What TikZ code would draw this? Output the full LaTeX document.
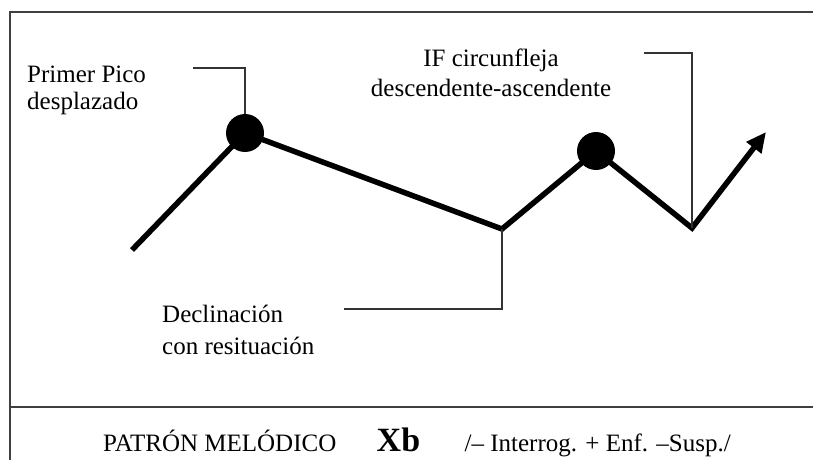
\documentclass[tikz,border=0pt]{standalone}
\usepackage{fontspec}
\setmainfont{Liberation Serif}
\usetikzlibrary{arrows.meta,positioning}

\begin{document}
\begin{tikzpicture}[x=1pt,y=-1pt,lbl/.style={inner sep=0pt,font=\fontsize{25}{27}\selectfont},marco/.style={line width=2.4pt,draw=black!75},curva/.style={line width=5.5pt,line join=miter},guia/.style={line width=1.8pt,draw=black!80},pico/.style={circle,fill=black,minimum size=38pt,inner sep=0pt}]
\useasboundingbox (0,0) rectangle (813,460);
\draw[marco] (10,460) -- (10,12) -- (813,12);
\draw[marco] (10,407) -- (813,407);
% curva melodica
\coordinate (ini) at (132,250);\coordinate (p1) at (245,133);\coordinate (valle1) at (502,229);
\coordinate (p2) at (596,151);\coordinate (valle2) at (692,228);\coordinate (fin) at (766,132);
\draw[curva,-{Triangle[length=20pt,width=18pt]}] (ini) -- (p1) -- (valle1) -- (p2) -- (valle2) -- (fin);
\node[pico] (pico1) at (p1) {};\node[pico] (pico2) at (p2) {};
% etiquetas
\node[lbl,align=left,anchor=west] (primer) at (27,90) {Primer Pico\\desplazado};
\node[lbl,align=center,font=\fontsize{25}{30}\selectfont] (if) at (491,73) {IF circunfleja\\descendente-ascendente};
\node[lbl,align=left,anchor=west,font=\fontsize{25}{32}\selectfont] (decl) at (162,330) {Declinación\\con resituación};
\coordinate (g1) at (193,68);\coordinate (g2) at (644,53);\coordinate (g3) at (344,309);
\draw[guia] (g1) -| (pico1.north);
\draw[guia] (g2) -| (valle2);
\draw[guia] (g3) -| (valle1);
% pie
\node[lbl,anchor=base west] (patron) at (103,451) {PATRÓN MELÓDICO};
\node[lbl,base right=40pt of patron,font=\fontsize{34}{36}\selectfont\bfseries] (xb) {Xb};
\node[lbl,base right=44pt of xb] (tipo) {/– Interrog. + Enf. –Susp./};
\end{tikzpicture}
\end{document}
